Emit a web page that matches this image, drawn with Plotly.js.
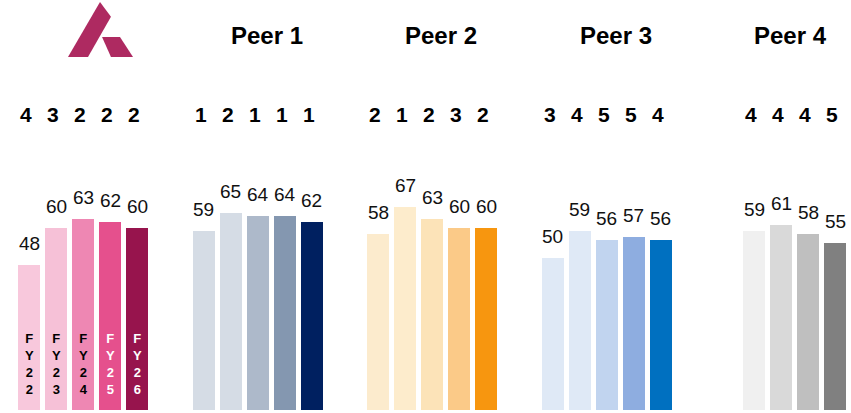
<!DOCTYPE html>
<html>
<head>
<meta charset="utf-8">
<script src="https://cdn.plot.ly/plotly-3.0.1.min.js"></script>
<style>
html,body{margin:0;padding:0;background:#fff;}
#chart{width:851px;height:413px;}
</style>
</head>
<body>
<div id="chart"></div>
<script>
// ---- data ----
var years = ['FY22', 'FY23', 'FY24', 'FY25', 'FY26'];
var groupNames = ['Axis', 'Peer 1', 'Peer 2', 'Peer 3', 'Peer 4'];
var axisValues  = [48, 60, 63, 62, 60];
var peer1Values = [59, 65, 64, 64, 62];
var peer2Values = [58, 67, 63, 60, 60];
var peer3Values = [50, 59, 56, 57, 56];
var peer4Values = [null, 59, 61, 58, 55];
var axisRanks  = [4, 3, 2, 2, 2];
var peer1Ranks = [1, 2, 1, 1, 1];
var peer2Ranks = [2, 1, 2, 3, 2];
var peer3Ranks = [3, 4, 5, 5, 4];
var peer4Ranks = [null, 4, 4, 4, 5];

// ---- styles ----
var axisColors  = ['#F8C8DC', '#F6C1D7', '#EE87B3', '#E5508D', '#97144D'];
var peer1Colors = ['#D5DCE5', '#D5DCE5', '#ADB9CA', '#8497B0', '#002060'];
var peer2Colors = ['#FCEBCD', '#FDECCC', '#FCE3B8', '#FBCA88', '#F7960F'];
var peer3Colors = ['#DFE9F6', '#DFE9F6', '#C1D4EF', '#8EADE0', '#0070C0'];
var peer4Colors = ['#F0F0F0', '#F0F0F0', '#D9D9D9', '#BFBFBF', '#808080'];
var fyTextColors = ['#000000', '#000000', '#000000', '#FFFFFF', '#FFFFFF'];

var allValues = [axisValues, peer1Values, peer2Values, peer3Values, peer4Values];
var allRanks  = [axisRanks, peer1Ranks, peer2Ranks, peer3Ranks, peer4Ranks];
var allColors = [axisColors, peer1Colors, peer2Colors, peer3Colors, peer4Colors];

var GROUP_STEP = 6.463;
var FONT = 'Liberation Sans, Arial, sans-serif';

function pos(g, s) { return g * GROUP_STEP + s; }

var traces = [];
var annotations = [];

allValues.forEach(function (vals, g) {
  var xs = [], ys = [], cs = [];
  vals.forEach(function (v, s) {
    if (v === null) return;
    xs.push(pos(g, s)); ys.push(v); cs.push(allColors[g][s]);
    annotations.push({
      x: pos(g, s), y: v, xref: 'x', yref: 'y', text: String(v),
      showarrow: false, yanchor: 'bottom', yshift: 9,
      font: {family: FONT, size: 19, color: '#111111'}
    });
  });
  traces.push({
    type: 'bar', x: xs, y: ys, width: 0.815,
    marker: {color: cs, line: {width: 0}},
    hoverinfo: 'skip', showlegend: false, name: groupNames[g]
  });
  allRanks[g].forEach(function (r, s) {
    if (r === null) return;
    annotations.push({
      x: pos(g, s), y: 0.72, xref: 'x', yref: 'paper', text: '<b>' + r + '</b>',
      showarrow: false, yanchor: 'middle', xshift: -3,
      font: {family: FONT, size: 21, color: '#000000'}
    });
  });
  if (g > 0) {
    annotations.push({
      x: pos(g, 2), y: 0.913, xref: 'x', yref: 'paper', text: '<b>' + groupNames[g] + '</b>',
      showarrow: false, yanchor: 'middle', xshift: 9,
      font: {family: FONT, size: 24, color: '#000000'}
    });
  }
});

// FY labels inside the Axis bars
years.forEach(function (y, s) {
  annotations.push({
    x: pos(0, s), y: 0.112, xref: 'x', yref: 'paper',
    text: '<b>' + y.split('').join('<br>') + '</b>',
    showarrow: false, yanchor: 'middle',
    font: {family: FONT, size: 13, color: fyTextColors[s]}
  });
});

var layout = {
  width: 851, height: 413,
  margin: {l: 0, r: 0, t: 0, b: 3, pad: 0},
  paper_bgcolor: '#ffffff', plot_bgcolor: '#ffffff',
  xaxis: {range: [-1.074, 30.444], showgrid: false, zeroline: false, showticklabels: false, showline: false, fixedrange: true},
  yaxis: {range: [0, 135.3], showgrid: false, zeroline: false, showticklabels: false, showline: false, fixedrange: true},
  annotations: annotations,
  shapes: [
    {type: 'path', xref: 'paper', yref: 'paper', layer: 'above',
     path: 'M 0.0799 0.861 L 0.1175 0.995 L 0.1304 0.959 L 0.1034 0.861 Z',
     fillcolor: '#AE2A61', line: {width: 0}},
    {type: 'path', xref: 'paper', yref: 'paper', layer: 'above',
     path: 'M 0.1199 0.910 L 0.1410 0.910 L 0.1563 0.861 L 0.1304 0.861 Z',
     fillcolor: '#AE2A61', line: {width: 0}}
  ],
  bargap: 0
};

Plotly.newPlot('chart', traces, layout, {staticPlot: true, displayModeBar: false});
</script>
</body>
</html>
